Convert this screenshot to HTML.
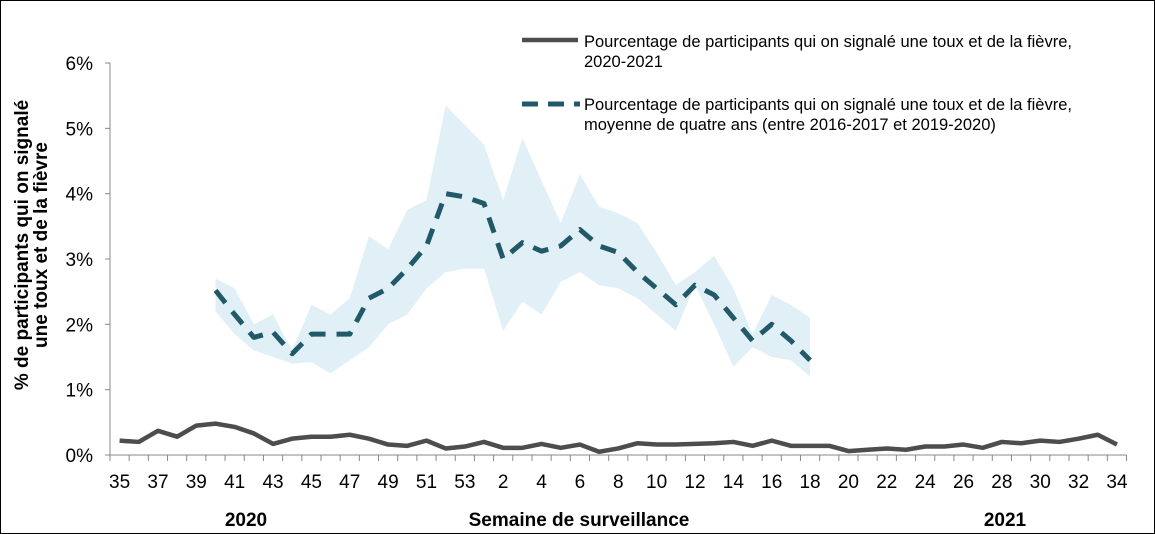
<!DOCTYPE html>
<html><head><meta charset="utf-8"><style>
body{margin:0;background:#fff;}
svg{display:block;font-family:"Liberation Sans",Arial,sans-serif;}
</style></head><body>
<svg id="c" width="1155" height="534" viewBox="0 0 1155 534">
<rect x="0.5" y="0.5" width="1154" height="533" fill="#fff" stroke="#000"/>
</svg>
<script>
const weeks=[35,36,37,38,39,40,41,42,43,44,45,46,47,48,49,50,51,52,53,1,2,3,4,5,6,7,8,9,10,11,12,13,14,15,16,17,18,19,20,21,22,23,24,25,26,27,28,29,30,31,32,33,34];
const current=[0.22,0.2,0.37,0.28,0.45,0.48,0.43,0.33,0.17,0.25,0.28,0.28,0.31,0.25,0.16,0.14,0.22,0.1,0.13,0.2,0.11,0.11,0.17,0.11,0.16,0.05,0.1,0.18,0.16,0.16,0.17,0.18,0.2,0.14,0.22,0.14,0.14,0.14,0.06,0.08,0.1,0.08,0.13,0.13,0.16,0.11,0.2,0.18,0.22,0.2,0.25,0.31,0.16];
const avgStart=5;
const average=[2.52,2.15,1.8,1.88,1.55,1.85,1.85,1.85,2.4,2.55,2.85,3.2,4.0,3.95,3.85,3.0,3.25,3.12,3.2,3.45,3.2,3.1,2.8,2.55,2.3,2.6,2.45,2.1,1.75,2.0,1.75,1.45];
const upper=[2.7,2.55,2.0,2.15,1.6,2.3,2.15,2.4,3.35,3.15,3.75,3.9,5.35,5.05,4.75,3.9,4.85,4.2,3.55,4.3,3.8,3.7,3.55,3.1,2.6,2.8,3.05,2.55,1.85,2.45,2.3,2.1];
const lower=[2.2,1.85,1.6,1.5,1.4,1.42,1.25,1.45,1.65,2.0,2.15,2.55,2.8,2.85,2.85,1.9,2.35,2.15,2.65,2.8,2.6,2.55,2.4,2.15,1.9,2.6,2.0,1.35,1.65,1.5,1.45,1.2];
const yTicks=[0,1,2,3,4,5,6];

const NS="http://www.w3.org/2000/svg",svg=document.getElementById('c');
const X0=110,CW=19.18,Y0=455,YS=65.33;
const xs=i=>X0+(i+0.5)*CW, ys=v=>Y0-v*YS;
function mk(t,a,p){const e=document.createElementNS(NS,t);for(const k in a)e.setAttribute(k,a[k]);(p||svg).appendChild(e);return e;}

let pts=[];
for(let i=0;i<upper.length;i++)pts.push(xs(avgStart+i)+','+ys(upper[i]));
for(let i=lower.length-1;i>=0;i--)pts.push(xs(avgStart+i)+','+ys(lower[i]));
const band=mk('polygon',{points:pts.join(' '),fill:'#e1f0f7'});



const ya=mk('line',{x1:X0,y1:ys(6),x2:X0,y2:Y0,stroke:'#888','stroke-width':1});


const xa=mk('line',{x1:X0,y1:Y0,x2:X0+53*CW,y2:Y0,stroke:'#888','stroke-width':1});


yTicks.forEach(v=>{
  mk('line',{x1:X0-5,y1:ys(v),x2:X0,y2:ys(v),stroke:'#888'});
  const t=mk('text',{x:93,y:ys(v)+7,'text-anchor':'end','font-size':19,fill:'#000'});
  t.textContent=v+'%';
  
  
});
for(let i=0;i<=53;i++)mk('line',{x1:X0+i*CW,y1:Y0,x2:X0+i*CW,y2:Y0+6,stroke:'#888'});
weeks.forEach((w,i)=>{
  if(i%2)return;
  const t=mk('text',{x:xs(i),y:488,'text-anchor':'middle','font-size':19,fill:'#000'});
  t.textContent=w;
  
  
});

const avgLine=mk('polyline',{points:average.map((v,i)=>xs(avgStart+i)+','+ys(v)).join(' '),fill:'none',stroke:'#215968','stroke-width':5,'stroke-dasharray':'16 11','stroke-linejoin':'round'});


const curLine=mk('polyline',{points:current.map((v,i)=>xs(i)+','+ys(v)).join(' '),fill:'none',stroke:'#4d4d4d','stroke-width':4.5,'stroke-linejoin':'round'});



function txt(x,y,str,name){const t=mk('text',{x:x,y:y,'font-size':19,fill:'#000','text-anchor':'middle','font-weight':'bold'});t.textContent=str;return t;}
txt(246,526,'2020','year-label-2020');
txt(1005,526,'2021','year-label-2021');
txt(579,526,'Semaine de surveillance','x-axis-title');
const g=mk('g',{transform:'translate(28,245) rotate(-90)'});


const t1=mk('text',{x:0,y:0,'text-anchor':'middle','font-size':19,'font-weight':'bold'},g);t1.textContent='% de participants qui on signalé';
const t2=mk('text',{x:0,y:19,'text-anchor':'middle','font-size':19,'font-weight':'bold'},g);t2.textContent='une toux et de la fièvre';

const l1=mk('g',{});


mk('line',{x1:522,y1:40,x2:578,y2:40,stroke:'#4d4d4d','stroke-width':4.5},l1);
let a=mk('text',{x:584,y:47,'font-size':16.5},l1);a.textContent='Pourcentage de participants qui on signalé une toux et de la fièvre,';
a=mk('text',{x:584,y:67,'font-size':16.5},l1);a.textContent='2020-2021';
const l2=mk('g',{});


mk('line',{x1:522,y1:104,x2:580,y2:104,stroke:'#215968','stroke-width':5,'stroke-dasharray':'16 10'},l2);
a=mk('text',{x:584,y:110,'font-size':16.5},l2);a.textContent='Pourcentage de participants qui on signalé une toux et de la fièvre,';
a=mk('text',{x:584,y:130,'font-size':16.5},l2);a.textContent='moyenne de quatre ans (entre 2016-2017 et 2019-2020)';
</script>
</body></html>
